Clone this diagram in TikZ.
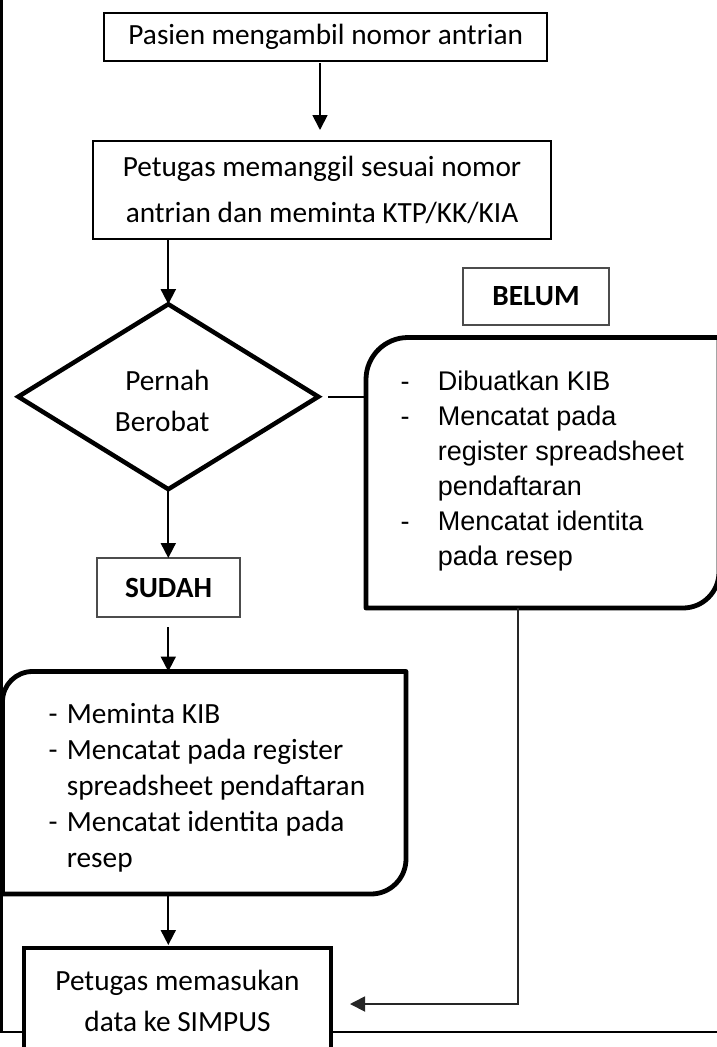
\documentclass[tikz,border=0pt]{standalone}
\usepackage{fontspec}
\setmainfont{Carlito}
\newfontfamily\arialf{Liberation Sans}
\usetikzlibrary{arrows.meta,shapes.geometric}
\begin{document}
\begin{tikzpicture}[x=1pt,y=-1pt,
  geom/.style={inner sep=0pt, outer sep=0pt},
  procbox/.style={geom, draw, line width=2pt, align=center, font=\fontsize{29.3}{46.6}\selectfont},
  labbox/.style={geom, draw=black!70, line width=1.2pt, font=\bfseries\fontsize{29.3}{36}\selectfont},
  decision/.style={geom, diamond, draw, line width=4.5pt, minimum width=300pt, minimum height=185pt},
  thickline/.style={line width=4.8pt, line join=round},
  conn/.style={line width=1.8pt, -{Triangle[length=15pt,width=15pt]}},
  plain/.style={line width=1.6pt},
  listC/.style={geom, align=left, anchor=north west, font=\fontsize{29.3}{36}\selectfont},
  listA/.style={geom, align=left, anchor=north west, font=\arialf\fontsize{27}{35}\selectfont},
]
\useasboundingbox (0,0) rectangle (717,1047);

% page border lines
\draw[line width=2.5pt] (1.5,0) -- (1.5,1032) -- (717,1032);

% nodes
\node[procbox, minimum width=443pt, minimum height=48pt] (b1) at (325.8,37) {Pasien mengambil nomor antrian};
\node[procbox, minimum width=458pt, minimum height=98pt] (b2) at (322,190) {Petugas memanggil sesuai nomor\\antrian dan meminta KTP/KK/KIA};
\node[decision] (d) at (168.3,396.7) {};
\node[geom, align=right, anchor=north east, font=\fontsize{29.3}{40.7}\selectfont] (dt) at (209.5,362.5) {\strut Pernah\\Berobat};
\node[labbox, minimum width=146pt, minimum height=57pt] (bl) at (536,296.5) {BELUM};
\node[labbox, minimum width=143pt, minimum height=59pt] (sd) at (168.5,587.5) {SUDAH};

% right rounded box
\node[geom, minimum width=353pt, minimum height=270.5pt] (rb) at (542.5,472.75) {};
\draw[thickline] (rb.south west) -- ([yshift=-42pt]rb.north west)
  .. controls ([yshift=-18.8pt]rb.north west) and ([xshift=18.8pt]rb.north west) .. ([xshift=42pt]rb.north west)
  -- (rb.north east) -- ([yshift=36pt]rb.south east)
  .. controls ([yshift=16.1pt]rb.south east) and ([xshift=-16.1pt]rb.south east) .. ([xshift=-36pt]rb.south east)
  -- cycle;
\node[listA] (rbt) at (400.5,365.5) {\strut\makebox[37.4pt][l]{-}Dibuatkan KIB\\\makebox[37.4pt][l]{-}Mencatat pada\\\hspace*{37.4pt}register spreadsheet\\\hspace*{37.4pt}pendaftaran\\\makebox[37.4pt][l]{-}Mencatat identita\\\hspace*{37.4pt}pada resep};

% left rounded box
\node[geom, minimum width=403.5pt, minimum height=222.5pt] (lb) at (204.25,782.75) {};
\draw[thickline] (lb.south west) -- ([yshift=-30pt]lb.north west)
  .. controls ([yshift=-13.4pt]lb.north west) and ([xshift=13.4pt]lb.north west) .. ([xshift=30pt]lb.north west)
  -- (lb.north east) -- ([yshift=35pt]lb.south east)
  .. controls ([yshift=15.7pt]lb.south east) and ([xshift=-15.7pt]lb.south east) .. ([xshift=-35pt]lb.south east)
  -- cycle;
\node[listC] (lbt) at (48.5,698.3) {\strut\makebox[18.3pt][l]{-}Meminta KIB\\\makebox[18.3pt][l]{-}Mencatat pada register\\\hspace*{18.3pt}spreadsheet pendaftaran\\\makebox[18.3pt][l]{-}Mencatat identita pada\\\hspace*{18.3pt}resep};

% bottom box
\node[geom, draw, fill=white, line width=4.8pt, minimum width=307pt, minimum height=106pt, align=center, font=\fontsize{29.3}{41}\selectfont] (bb) at (177.5,1001) {Petugas memasukan\\data ke SIMPUS};

% connectors
\draw[conn, shorten <=2pt, shorten >=11pt] ([xshift=-5.8pt]b1.south) -- ([xshift=-5.8pt]b1.south |- b2.north);
\draw[conn] (b2.south -| d.north) -- (d.north);
\draw[conn] (d.south) -- (d.south |- sd.north);
\draw[conn, shorten <=10pt] (sd.south -| d.south) -- (lb.north -| d.south);
\draw[conn, shorten >=3pt] (lb.south -| d.south) -- (bb.north -| d.south);
\draw[plain, shorten <=10pt] (d.east) -- (d.east -| rb.west);
\draw[conn, draw=black!85] ([xshift=152pt]rb.south west) |- ([xshift=19pt,yshift=-3pt]bb.east);
\end{tikzpicture}
\end{document}
